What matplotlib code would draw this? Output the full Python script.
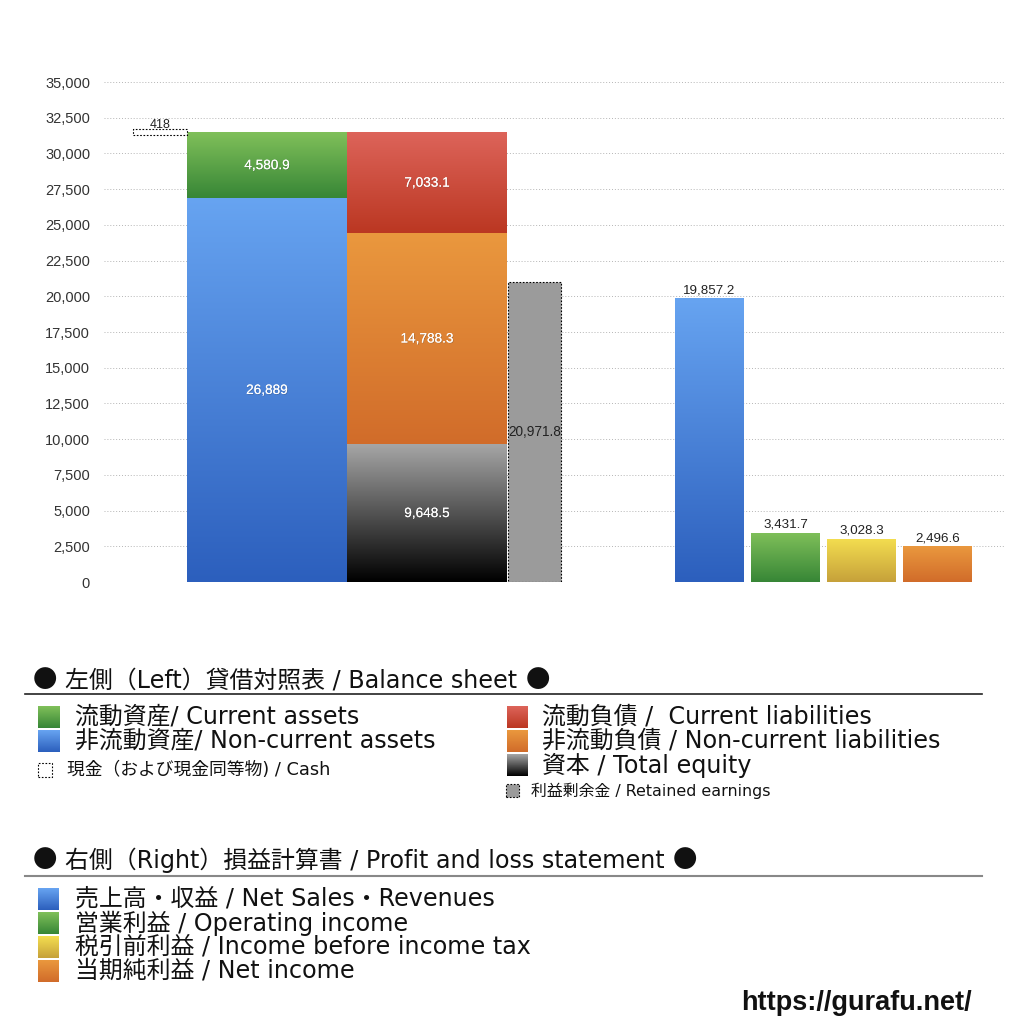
import numpy as np
import matplotlib
matplotlib.use("Agg")
import matplotlib.pyplot as plt
from matplotlib.colors import LinearSegmentedColormap
from matplotlib.patches import Rectangle
import matplotlib.patheffects as pe

plt.rcParams['font.family'] = ['Liberation Sans', 'Noto Sans CJK JP', 'DejaVu Sans']
LEG_FAMILY = ['DejaVu Sans', 'Noto Sans CJK JP']

# ---------------- data ----------------
cash = 418
current_assets = 4580.9
noncurrent_assets = 26889
current_liab = 7033.1
noncurrent_liab = 14788.3
total_equity = 9648.5
retained_earnings = 20971.8

pl_labels = ["売上高・収益 / Net Sales・Revenues", "営業利益 / Operating income",
             "税引前利益 / Income before income tax", "当期純利益 / Net income"]
pl_values = [19857.2, 3431.7, 3028.3, 2496.6]

yticks = list(range(0, 35001, 2500))

# ---------------- layout ----------------
BLUE = ("#67a4f1", "#2c5fbd")
GREEN = ("#80c05a", "#378636")
RED = ("#dd645a", "#bb3722")
ORANGE = ("#ea983e", "#d16c2a")
BLACK = ("#a6a6a6", "#000000")
YELLOW = ("#f4de50", "#c6a13a")
pl_colors = [BLUE, GREEN, YELLOW, ORANGE]

x_cash, w_cash = 160, 54
x_assets, w_main = 267, 160
x_liab = 427
x_ret, w_ret = 534.5, 53
x_pl = [709.5, 785.5, 861.5, 937.5]
w_pl = 69

fig = plt.figure(figsize=(10.24, 10.24), dpi=100)
ax = fig.add_axes([104/1024, 1-582/1024, (1005-104)/1024, 500/1024])


def fmt(v):
    s = f"{v:,.1f}"
    if s.endswith(".0"):
        s = s[:-2]
    return s


def grad_bar(x, bottom, height, width, cols):
    bar = ax.bar(x, height, width, bottom=bottom, color='none', linewidth=0, zorder=2)[0]
    cmap = LinearSegmentedColormap.from_list('g', [cols[1], cols[0]])
    grad = np.linspace(0, 1, 256).reshape(-1, 1)
    im = ax.imshow(grad, cmap=cmap, extent=(x - width/2, x + width/2, bottom, bottom + height),
                   origin='lower', aspect='auto', zorder=2, interpolation='bilinear')
    im.set_clip_path(bar)
    return bar


shadow = [pe.withSimplePatchShadow(offset=(0.5, -0.5), shadow_rgbFace='#444444', alpha=0.35), pe.Normal()]


def inner_label(x, y, v):
    ax.text(x, y, fmt(v), ha='center', va='center', color='white', fontsize=9.8,
            path_effects=shadow, zorder=5)


# Assets stack
grad_bar(x_assets, 0, noncurrent_assets, w_main, BLUE)
grad_bar(x_assets, noncurrent_assets, current_assets, w_main, GREEN)
inner_label(x_assets, noncurrent_assets/2, noncurrent_assets)
inner_label(x_assets, noncurrent_assets + current_assets/2, current_assets)

# Liabilities + equity stack
grad_bar(x_liab, 0, total_equity, w_main, BLACK)
grad_bar(x_liab, total_equity, noncurrent_liab, w_main, ORANGE)
grad_bar(x_liab, total_equity + noncurrent_liab, current_liab, w_main, RED)
inner_label(x_liab, total_equity/2, total_equity)
inner_label(x_liab, total_equity + noncurrent_liab/2, noncurrent_liab)
inner_label(x_liab, total_equity + noncurrent_liab + current_liab/2, current_liab)

# Retained earnings
ax.bar(x_ret, retained_earnings, w_ret, color='#9b9b9b', edgecolor='black',
       linewidth=0.8, linestyle=(0, (1.5, 1.5)), zorder=2)
ax.text(x_ret, retained_earnings/2, fmt(retained_earnings), ha='center', va='center',
        fontsize=9.8, color='#222222', zorder=5)

# Cash
total_assets = noncurrent_assets + current_assets
ax.bar(x_cash, cash, w_cash, bottom=total_assets - cash/2, color='white', edgecolor='black',
       linewidth=0.8, linestyle=(0, (1.5, 1.5)), zorder=2)
ax.text(x_cash, total_assets + cash/2 - 80, fmt(cash), ha='center', va='bottom',
        fontsize=9, color='#222222', zorder=5)

# P&L
for x, v, c in zip(x_pl, pl_values, pl_colors):
    grad_bar(x, 0, v, w_pl, c)
    ax.text(x, v + 150, fmt(v), ha='center', va='bottom', fontsize=9.6, color='#222222', zorder=5)

ax.set_xlim(104, 1005)
ax.set_ylim(0, 35000)
ax.set_yticks(yticks)
ax.set_yticklabels([f"{t:,}" for t in yticks], fontsize=10.5, color='#333333')
ax.set_xticks([])
ax.tick_params(axis='y', length=0, pad=10)
for s in ax.spines.values():
    s.set_visible(False)
ax.yaxis.grid(True, linestyle=(0, (1, 2)), color='#b5b5b5', linewidth=0.7)
ax.set_axisbelow(True)

# ---------------- legends ----------------
def fy(py):
    return 1 - py/1024

def fx(px):
    return px/1024


def grad_square(x0, y0, w, h, cols, dashed=False, face=None):
    if face is not None or dashed:
        r = Rectangle((fx(x0), fy(y0 + h)), w/1024, h/1024, transform=fig.transFigure,
                      facecolor=face if face else 'white', edgecolor='black', linewidth=0.8,
                      linestyle=(0, (1.5, 1.5)))
        fig.add_artist(r)
        return
    a = fig.add_axes([fx(x0), fy(y0 + h), w/1024, h/1024])
    cmap = LinearSegmentedColormap.from_list('g', [cols[1], cols[0]])
    a.imshow(np.linspace(0, 1, 64).reshape(-1, 1), cmap=cmap, origin='lower', aspect='auto')
    a.axis('off')


renderer = fig.canvas.get_renderer()

LS = 17.2


def ltext(x, y, s, size=LS):
    return fig.text(fx(x), fy(y), s, fontsize=size, family=LEG_FAMILY, va='center', ha='left',
                    color='#111111')


def heading(y, body, size=LS):
    b1 = fig.text(fx(33), fy(y), "●", fontsize=17.5, family=['Noto Sans CJK JP'],
                  va='center', ha='left', color='#111111')
    e1 = b1.get_window_extent(renderer)
    t = fig.text(e1.x1 / 1024 + fx(8), fy(y), body, fontsize=size, family=LEG_FAMILY,
                 va='center', ha='left', color='#111111')
    e2 = t.get_window_extent(renderer)
    fig.text(e2.x1 / 1024 + fx(8), fy(y), "●", fontsize=17.5, family=['Noto Sans CJK JP'],
             va='center', ha='left', color='#111111')


# Balance sheet heading
heading(680, "左側（Left）貸借対照表 / Balance sheet")
fig.add_artist(plt.Line2D([fx(25), fx(982)], [fy(694), fy(694)], transform=fig.transFigure,
                          color='#222222', linewidth=1.2))

left_items = [("流動資産/ Current assets", GREEN, 717), ("非流動資産/ Non-current assets", BLUE, 741)]
for t, c, y in left_items:
    grad_square(38, y - 11, 22, 22, c)
    ltext(75, y, t)
grad_square(38, 763, 14, 14, None, dashed=True)
ltext(67, 770, "現金（および現金同等物) / Cash", 12.8)

right_items = [("流動負債 /  Current liabilities", RED, 717),
               ("非流動負債 / Non-current liabilities", ORANGE, 741),
               ("資本 / Total equity", BLACK, 765)]
for t, c, y in right_items:
    grad_square(507, y - 11, 21, 22, c)
    ltext(542, y, t)
grad_square(506, 784, 13, 13, None, dashed=True, face='#9b9b9b')
ltext(531, 791, "利益剰余金 / Retained earnings", 11.4)

# P&L heading
heading(860, "右側（Right）損益計算書 / Profit and loss statement")
fig.add_artist(plt.Line2D([fx(25), fx(982)], [fy(876), fy(876)], transform=fig.transFigure,
                          color='#888888', linewidth=1.5))

for i, (t, c) in enumerate(zip(pl_labels, pl_colors)):
    y = 899 + 24 * i
    grad_square(38, y - 11, 21, 22, c)
    ltext(75, y, t)

fig.text(fx(972), fy(1003), "https://gurafu.net/", fontsize=19.5, fontweight='bold',
         va='center', ha='right', color='#111111')

fig.savefig("out.png", dpi=100)
